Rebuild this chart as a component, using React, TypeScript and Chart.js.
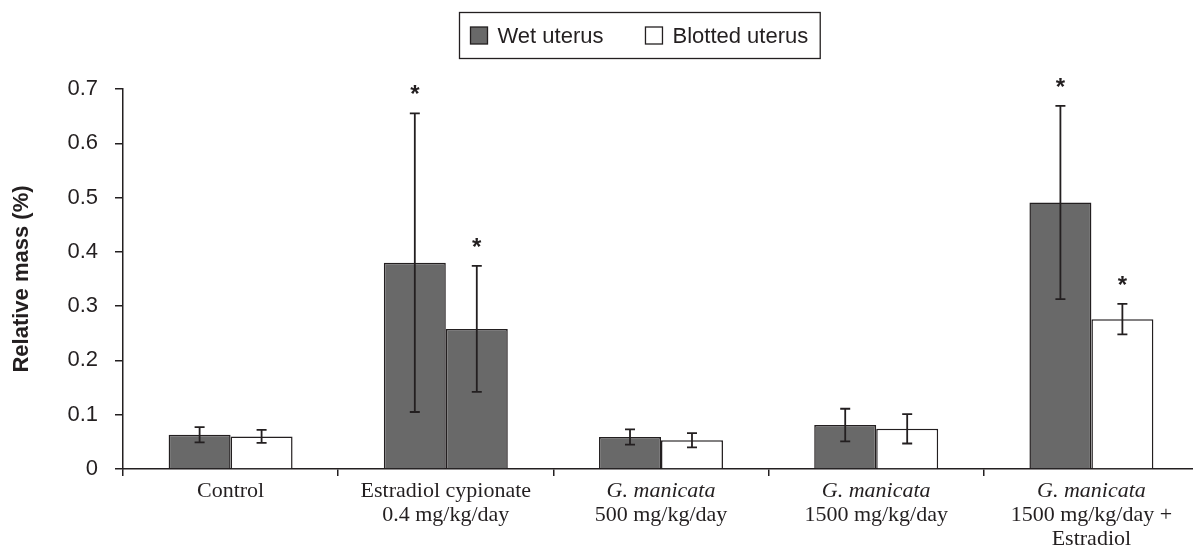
import React, { useEffect, useRef } from "react";
import { Chart, registerables } from "chart.js";

Chart.register(...registerables);

// ---------- data ----------
const categories: string[][] = [
  ["Control"],
  ["Estradiol cypionate", "0.4 mg/kg/day"],
  ["G. manicata", "500 mg/kg/day"],
  ["G. manicata", "1500 mg/kg/day"],
  ["G. manicata", "1500 mg/kg/day +", "Estradiol"],
];
const seriesNames = ["Wet uterus", "Blotted uterus"];
const wetMeans = [0.063, 0.38, 0.059, 0.081, 0.491];
const wetErrors = [0.014, 0.275, 0.014, 0.03, 0.178];
const blottedMeans = [0.06, 0.258, 0.053, 0.074, 0.276];
const blottedErrors = [0.012, 0.116, 0.013, 0.027, 0.028];
const wetSignificant = [false, true, false, false, true];
const blottedSignificant = [false, true, false, false, true];
const yTickValues = [0, 0.1, 0.2, 0.3, 0.4, 0.5, 0.6, 0.7];
const italicLine = "G. manicata";

// ---------- styles ----------
const INK = "#231f20";
const DARK = "#696969";
const SANS = "'Liberation Sans', Arial, sans-serif";
const SERIF = "'Liberation Serif', 'Times New Roman', serif";
const wetColors = ["#696969", "#696969", "#696969", "#696969", "#696969"];
const blottedColors = ["#ffffff", "#696969", "#ffffff", "#ffffff", "#ffffff"];

const errorBarPlugin = {
  id: "errorBars",
  afterDatasetsDraw(chart: any) {
    const ctx = chart.ctx;
    const y = chart.scales.y;
    chart.data.datasets.forEach((ds: any, di: number) => {
      const meta = chart.getDatasetMeta(di);
      meta.data.forEach((bar: any, i: number) => {
        const v = ds.data[i];
        const e = ds.errors[i];
        const top = y.getPixelForValue(v + e);
        const bot = y.getPixelForValue(v - e);
        ctx.save();
        ctx.strokeStyle = INK;
        ctx.lineWidth = 1.8;
        ctx.beginPath();
        ctx.moveTo(bar.x, top);
        ctx.lineTo(bar.x, bot);
        ctx.moveTo(bar.x - 5, top);
        ctx.lineTo(bar.x + 5, top);
        ctx.moveTo(bar.x - 5, bot);
        ctx.lineTo(bar.x + 5, bot);
        ctx.stroke();
        if (ds.significant[i]) {
          ctx.fillStyle = INK;
          ctx.font = `bold 24px ${SANS}`;
          ctx.textAlign = "center";
          ctx.textBaseline = "alphabetic";
          ctx.fillText("*", bar.x, top - 11);
        }
        ctx.restore();
      });
    });
  },
};

const xLabelPlugin = {
  id: "xLabels",
  afterDraw(chart: any) {
    const ctx = chart.ctx;
    const x = chart.scales.x;
    const bottom = chart.chartArea.bottom;
    ctx.save();
    ctx.fillStyle = INK;
    ctx.textAlign = "center";
    ctx.textBaseline = "middle";
    categories.forEach((lines, i) => {
      const px = x.getPixelForValue(i);
      lines.forEach((line, k) => {
        ctx.font = `${line === italicLine ? "italic " : ""}22px ${SERIF}`;
        ctx.fillText(line, px, bottom + 22 + k * 24.2);
      });
    });
    ctx.restore();
  },
};

const legendPlugin = {
  id: "boxLegend",
  afterDraw(chart: any) {
    const ctx = chart.ctx;
    const ds = chart.data.datasets;
    ctx.save();
    ctx.font = `22px ${SANS}`;
    const sq = 17;
    const padL = 11, padR = 12, gapText = 10, gapItem = 42;
    const widths = ds.map((d: any) => ctx.measureText(d.label).width);
    let total = padL + padR;
    widths.forEach((w: number, i: number) => {
      total += sq + gapText + w + (i > 0 ? gapItem : 0);
    });
    const centerX = 639.5;
    const top = 12.5, bottom = 58.5, mid = 35.5;
    const left = Math.round(centerX - total / 2) + 0.5;
    ctx.strokeStyle = INK;
    ctx.lineWidth = 1.3;
    ctx.strokeRect(left, top, total, bottom - top);
    let cx = left + padL;
    ds.forEach((d: any, i: number) => {
      if (i > 0) cx += gapItem;
      ctx.fillStyle = i === 0 ? DARK : "#ffffff";
      ctx.fillRect(cx, mid - sq / 2, sq, sq);
      ctx.strokeRect(cx, mid - sq / 2, sq, sq);
      cx += sq + gapText;
      ctx.fillStyle = INK;
      ctx.textAlign = "left";
      ctx.textBaseline = "middle";
      ctx.fillText(d.label, cx, mid + 1);
      cx += widths[i];
    });
    ctx.restore();
  },
};

export default function App() {
  const canvasRef = useRef<HTMLCanvasElement | null>(null);

  useEffect(() => {
    if (!canvasRef.current) return;
    const chart = new Chart(canvasRef.current, {
      type: "bar",
      data: {
        labels: categories,
        datasets: [
          {
            label: seriesNames[0],
            data: wetMeans,
            errors: wetErrors,
            significant: wetSignificant,
            backgroundColor: wetColors,
            borderColor: INK,
            borderWidth: 1.5,
            categoryPercentage: 0.576,
            barPercentage: 1,
          } as any,
          {
            label: seriesNames[1],
            data: blottedMeans,
            errors: blottedErrors,
            significant: blottedSignificant,
            backgroundColor: blottedColors,
            borderColor: INK,
            borderWidth: 1.5,
            categoryPercentage: 0.576,
            barPercentage: 1,
          } as any,
        ],
      },
      options: {
        animation: false,
        responsive: true,
        maintainAspectRatio: false,
        events: [],
        layout: { padding: { top: 89, bottom: 72, left: 0, right: 1 } },
        plugins: {
          legend: { display: false },
          tooltip: { enabled: false },
        },
        scales: {
          x: {
            type: "category",
            offset: true,
            grid: {
              offset: true,
              drawOnChartArea: false,
              tickLength: 7,
              color: INK,
              lineWidth: 1.5,
            },
            border: { color: INK, width: 1.5 },
            ticks: { display: false },
          },
          y: {
            min: 0,
            max: 0.7,
            afterFit: (scale: any) => {
              scale.width = 123;
            },
            afterBuildTicks: (scale: any) => {
              scale.ticks = yTickValues.map((v) => ({ value: v }));
            },
            grid: {
              drawOnChartArea: false,
              tickLength: 8,
              color: INK,
              lineWidth: 1.5,
            },
            border: { color: INK, width: 1.5 },
            ticks: {
              padding: 17,
              color: INK,
              font: { family: SANS, size: 22 },
              callback: (v: any) => (Number(v) === 0 ? "0" : Number(v).toFixed(1)),
            },
            title: {
              display: true,
              text: "Relative mass (%)",
              color: INK,
              font: { family: SANS, size: 22, weight: "bold" },
              padding: { top: 9, bottom: 0 },
            },
          },
        },
      },
      plugins: [errorBarPlugin, xLabelPlugin, legendPlugin],
    });
    return () => chart.destroy();
  }, []);

  return (
    <div
      style={{
        position: "fixed",
        left: 0,
        top: 0,
        width: 1193,
        height: 548,
        overflow: "hidden",
        background: "#ffffff",
      }}
    >
      <div style={{ position: "relative", width: 1200, height: 548 }}>
        <canvas ref={canvasRef} />
      </div>
    </div>
  );
}
